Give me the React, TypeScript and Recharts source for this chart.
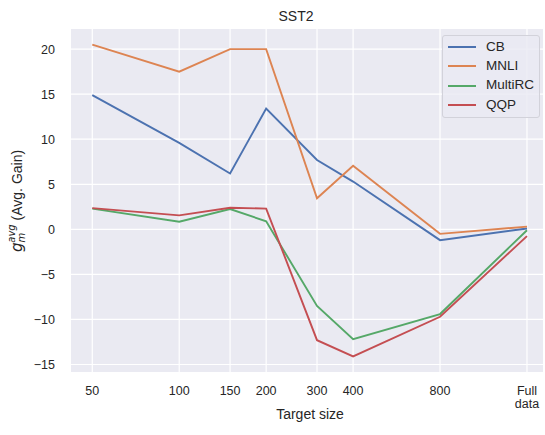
import React from "react";
import { LineChart, Line, XAxis, YAxis, CartesianGrid, Customized } from "recharts";

const sizes = [50, 100, 150, 200, 300, 400, 800, 1600];
const tickLabels = ["50", "100", "150", "200", "300", "400", "800", "Full data"];
const cb = [14.9, 9.6, 6.2, 13.4, 7.7, 5.3, -1.2, 0.1];
const mnli = [20.5, 17.5, 20.0, 20.0, 3.45, 7.05, -0.5, 0.3];
const multirc = [2.3, 0.85, 2.25, 0.9, -8.5, -12.2, -9.4, -0.1];
const qqp = [2.35, 1.55, 2.4, 2.3, -12.3, -14.1, -9.7, -0.75];
const yTicks = [-15, -10, -5, 0, 5, 10, 15, 20];

const seriesNames = ["CB", "MNLI", "MultiRC", "QQP"];
const seriesKeys = ["cb", "mnli", "multirc", "qqp"];
const colors = ["#4C72B0", "#DD8452", "#55A868", "#C44E52"];

const data = sizes.map((s, i) => ({
  x: s,
  cb: cb[i],
  mnli: mnli[i],
  multirc: multirc[i],
  qqp: qqp[i],
}));

const FONT = "'Liberation Sans', Arial, sans-serif";

const XTick = (props: any) => {
  const { x, y, payload } = props;
  const idx = sizes.indexOf(payload.value);
  const label = idx >= 0 ? tickLabels[idx] : String(payload.value);
  const parts = label.split(" ");
  return (
    <g>
      {parts.map((p, i) => (
        <text
          key={i}
          x={x}
          y={y + 22.5 + i * 13.5}
          textAnchor="middle"
          fontSize={12.5}
          fontFamily={FONT}
          fill="#262626"
        >
          {p}
        </text>
      ))}
    </g>
  );
};

const YTick = (props: any) => {
  const { x, y, payload } = props;
  const v = payload.value;
  const s = v < 0 ? "\u2212" + Math.abs(v) : String(v);
  return (
    <text x={x} y={y + 4.5} textAnchor="end" fontSize={12.5} fontFamily={FONT} fill="#262626">
      {s}
    </text>
  );
};

const Texts = () => (
  <g fontFamily={FONT} fill="#262626">
    <text x={296} y={20.5} textAnchor="middle" fontSize={14}>
      SST2
    </text>
    <text x={310} y={418.5} textAnchor="middle" fontSize={14}>
      Target size
    </text>
    <text transform="translate(22,252) rotate(-90)" fontSize={14}>
      <tspan fontStyle="italic" fontFamily="'DejaVu Sans', sans-serif" fontSize={15}>g</tspan>
      <tspan fontStyle="italic" fontFamily="'DejaVu Sans', sans-serif" fontSize={10} dy={3}>m</tspan>
      <tspan fontStyle="italic" fontFamily="'DejaVu Sans', sans-serif" fontSize={10} dx={-10} dy={-10}>avg</tspan>
      <tspan dy={7}> (Avg. Gain)</tspan>
    </text>
  </g>
);

const LegendBox = () => (
  <div
    style={{
      position: "absolute",
      left: 442,
      top: 35,
      width: 96,
      height: 81,
      background: "rgba(234,234,242,0.8)",
      border: "1px solid #d2d2da",
      borderRadius: 3,
      fontFamily: FONT,
      fontSize: 13.5,
      color: "#262626",
    }}
  >
    {seriesNames.map((n, i) => (
      <div
        key={n}
        style={{ position: "absolute", left: 0, top: 1.5 + i * 19.4, height: 19, width: 96 }}
      >
        <div
          style={{
            position: "absolute",
            left: 5,
            top: 8.5,
            width: 28,
            height: 0,
            borderTop: `2px solid ${colors[i]}`,
          }}
        />
        <span style={{ position: "absolute", left: 43, top: 1, lineHeight: "16px", whiteSpace: "nowrap" }}>{n}</span>
      </div>
    ))}
  </div>
);

export default function App() {
  return (
    <div style={{ position: "absolute", left: 0, top: 0, width: 545, height: 435, background: "#fff" }}>
      <LineChart
        width={545}
        height={435}
        data={data}
        margin={{ top: 29, right: 2, bottom: 0, left: 0 }}
      >
        <CartesianGrid
          fill="#EAEAF2"
          stroke="#ffffff"
          strokeWidth={1.2}
          vertical
          horizontal
          verticalValues={sizes}
          horizontalValues={yTicks}
        />
        <XAxis
          dataKey="x"
          type="number"
          scale="log"
          domain={[42.2, 1818]}
          allowDataOverflow
          ticks={sizes}
          interval={0}
          tick={<XTick />}
          tickLine={false}
          axisLine={false}
          tickSize={0}
          tickMargin={0}
          height={63}
        />
        <YAxis
          type="number"
          domain={[-15.83, 22.23]}
          allowDataOverflow
          ticks={yTicks}
          interval={0}
          tick={<YTick />}
          tickLine={false}
          axisLine={false}
          tickSize={0}
          tickMargin={16}
          width={71}
        />
        {seriesKeys.map((k, i) => (
          <Line
            key={k}
            type="linear"
            dataKey={k}
            name={seriesNames[i]}
            stroke={colors[i]}
            strokeWidth={1.9}
            dot={false}
            activeDot={false}
            isAnimationActive={false}
          />
        ))}
        <Customized component={Texts} />
      </LineChart>
      <LegendBox />
    </div>
  );
}
